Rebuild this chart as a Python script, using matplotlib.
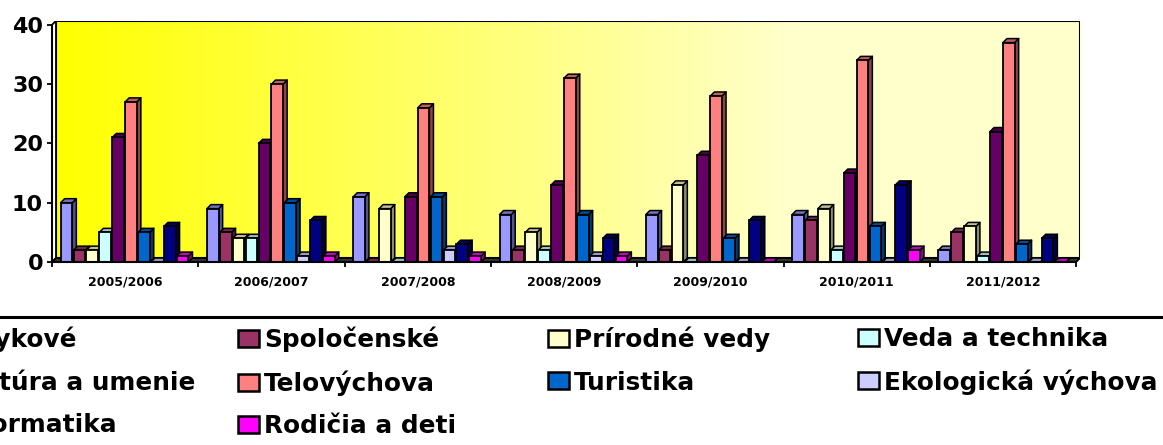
import numpy as np
import matplotlib
matplotlib.use("Agg")
import matplotlib.pyplot as plt
from matplotlib.patches import Patch, Rectangle, Polygon
from matplotlib.collections import PolyCollection
from matplotlib.lines import Line2D
from matplotlib.colors import to_rgb

# ---------------- data ----------------
years = ["2005/2006", "2006/2007", "2007/2008", "2008/2009",
         "2009/2010", "2010/2011", "2011/2012"]
series_names = ["Jazykové", "Spoločenské", "Prírodné vedy", "Veda a technika",
                "Kultúra a umenie", "Telovýchova", "Turistika",
                "Ekologická výchova", "Informatika", "Rodičia a deti"]
jazykove = [10, 9, 11, 8, 8, 8, 2]
spolocenske = [2, 5, 0, 2, 2, 7, 5]
prirodne_vedy = [2, 4, 9, 5, 13, 9, 6]
veda_technika = [5, 4, 0, 2, 0, 2, 1]
kultura_umenie = [21, 20, 11, 13, 18, 15, 22]
telovychova = [27, 30, 26, 31, 28, 34, 37]
turistika = [5, 10, 11, 8, 4, 6, 3]
ekologicka = [0, 1, 2, 1, 0, 0, 0]
informatika = [6, 7, 3, 4, 7, 13, 4]
rodicia_deti = [1, 1, 1, 1, 0, 2, 0]
series_values = [jazykove, spolocenske, prirodne_vedy, veda_technika,
                 kultura_umenie, telovychova, turistika, ekologicka,
                 informatika, rodicia_deti]
colors = ["#9999FF", "#993366", "#FFFFCC", "#CCFFFF", "#660066",
          "#FF8080", "#0066CC", "#CCCCFF", "#000080", "#FF00FF"]
yticks = [0, 10, 20, 30, 40]

# ---------------- geometry ----------------
W, H = 1163, 445
GW = 146.3      # px per group
UY = 5.93       # px per unit
DX = 4.0 / GW   # 3D depth (x, data units)
DY = 4.0 / UY   # 3D depth (y, data units)
n_groups = len(years)
ymax = 40

fig = plt.figure(figsize=(W / 100, H / 100), dpi=100)
fig.patch.set_facecolor("white")
ax = fig.add_axes([52 / W, (H - 262) / H, (n_groups + DX) * GW / W,
                   (ymax + DY) * UY / H])
ax.set_xlim(0, n_groups + DX)
ax.set_ylim(0, ymax + DY)
ax.patch.set_visible(False)

# back wall with horizontal gradient
grad = np.clip(np.linspace(0, 1, 400) / 0.72, 0, 1)
c0 = np.array(to_rgb("#FFFF00"))
c1 = np.array(to_rgb("#FFFFCC"))
img = (c0[None, :] * (1 - grad[:, None]) + c1[None, :] * grad[:, None])[None, :, :]
ax.imshow(img, extent=[DX, n_groups + DX, DY, ymax + DY], aspect="auto",
          zorder=0, interpolation="bilinear")
ax.add_patch(Rectangle((DX, DY), n_groups, ymax, fill=False, edgecolor="black",
                       lw=1.5, zorder=1))
# left side wall
ax.add_patch(Polygon([(0, 0), (DX, DY), (DX, ymax + DY), (0, ymax)],
                     closed=True, facecolor="white", edgecolor="black",
                     lw=1.3, zorder=1))
# floor
ax.add_patch(Polygon([(0, 0), (n_groups, 0), (n_groups + DX, DY), (DX, DY)],
                     closed=True, facecolor="#333333", edgecolor="black",
                     lw=1.3, zorder=1))

# bars
pitch = 0.0882
bw = 0.080
offset = (1 - pitch * len(series_names)) / 2
for si, (vals, col) in enumerate(zip(series_values, colors)):
    base = np.array(to_rgb(col))
    xs = np.arange(n_groups) + offset + si * pitch
    z = 3 + si * 0.1
    tops, sides = [], []
    for x, h in zip(xs, vals):
        tops.append([(x, h), (x + DX, h + DY), (x + bw + DX, h + DY), (x + bw, h)])
        sides.append([(x + bw, 0), (x + bw + DX, DY), (x + bw + DX, h + DY), (x + bw, h)])
    ax.add_collection(PolyCollection(sides, facecolors=[base * 0.55],
                                     edgecolors="black", linewidths=1.1, zorder=z))
    ax.add_collection(PolyCollection(tops, facecolors=[base * 0.75],
                                     edgecolors="black", linewidths=1.1, zorder=z + 0.01))
    ax.bar(xs, vals, width=bw, align="edge", color=col, edgecolor="black",
           linewidth=1.3, zorder=z + 0.05)

# axes styling
for s in ["top", "right"]:
    ax.spines[s].set_visible(False)
ax.spines["left"].set_bounds(0, ymax)
ax.spines["bottom"].set_bounds(0, n_groups)
ax.spines["left"].set_linewidth(1.5)
ax.spines["bottom"].set_linewidth(1.5)
ax.spines["left"].set_zorder(10)
ax.spines["bottom"].set_zorder(10)

ax.set_yticks(yticks)
ax.set_yticklabels([str(t) for t in yticks], fontsize=16, fontweight="bold")
ax.tick_params(axis="y", direction="out", length=3.6, width=1.3, pad=2.8)

ax.set_xticks(np.arange(n_groups) + 0.5)
ax.set_xticklabels(years, fontsize=9, fontweight="bold")
ax.set_xticks(np.arange(n_groups + 1), minor=True)
ax.tick_params(axis="x", which="major", length=0, pad=9.5)
ax.tick_params(axis="x", which="minor", direction="out", length=3.6, width=1.3)

# legend: 4 equal-width columns filled row by row
fig.add_artist(Line2D([0, 1], [1 - 317 / H] * 2, transform=fig.transFigure,
                      color="black", lw=2.2))
ncols = 4
for k in range(ncols):
    idx = list(range(k, len(series_names), ncols))
    handles = [Patch(facecolor=colors[i], edgecolor="black", linewidth=1.8) for i in idx]
    labels = [series_names[i] for i in idx]
    fig.legend(handles, labels, loc="upper left",
               bbox_to_anchor=((-72 + 310 * k) / W, 1 - 327 / H),
               frameon=False, borderpad=0, borderaxespad=0,
               handlelength=0.85, handleheight=0.68, handletextpad=0.2,
               labelspacing=0.73,
               prop={"family": "DejaVu Sans", "weight": "bold", "size": 17.8})

fig.savefig("out.png", dpi=100)
